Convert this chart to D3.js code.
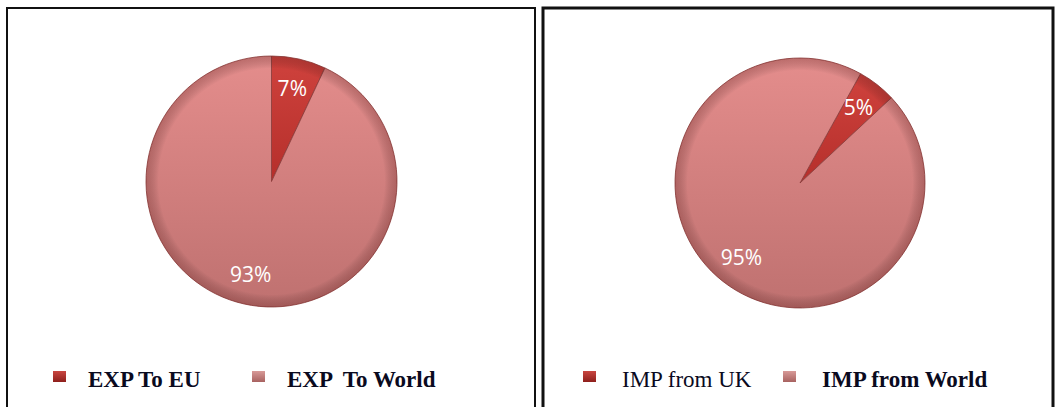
<!DOCTYPE html>
<html>
<head>
<meta charset="utf-8">
<script src="https://cdn.jsdelivr.net/npm/d3@7"></script>
<style>
  body { margin: 0; background: #fff; }
  svg { display: block; }
</style>
</head>
<body>
<div id="chart"></div>
<script>
// data
var exportCategories = ["EXP To EU", "EXP  To World"];
var exportValues = [7, 93];
var importCategories = ["IMP from UK", "IMP from World"];
var importValues = [5, 95];

var W = 1058, H = 407;
var svg = d3.select("#chart").append("svg").attr("width", W).attr("height", H);
var defs = svg.append("defs");

// slice fills: dark red for the small share, pink for the rest
var SLICE_COLORS = [["#cf423d", "#b52f2b"], ["#e48d8c", "#bf7170"]];
var MARK_COLORS = [["#c94640", "#8e1f1c"], ["#d89a98", "#a86260"]];

SLICE_COLORS.forEach(function(c, i) {
  var g = defs.append("linearGradient").attr("id", "slice" + i)
    .attr("x1", 0).attr("y1", 0).attr("x2", 0).attr("y2", 1);
  g.append("stop").attr("offset", "0%").attr("stop-color", c[0]);
  g.append("stop").attr("offset", "100%").attr("stop-color", c[1]);
});
MARK_COLORS.forEach(function(c, i) {
  var g = defs.append("linearGradient").attr("id", "mark" + i)
    .attr("x1", 0).attr("y1", 0).attr("x2", 0).attr("y2", 1);
  g.append("stop").attr("offset", "0%").attr("stop-color", c[0]);
  g.append("stop").attr("offset", "100%").attr("stop-color", c[1]);
});
// darker rim for the bevelled look
var rim = defs.append("radialGradient").attr("id", "rim");
rim.append("stop").attr("offset", "90%").attr("stop-color", "#000").attr("stop-opacity", 0);
rim.append("stop").attr("offset", "100%").attr("stop-color", "#5a1a18").attr("stop-opacity", 0.28);

function drawPanel(opts) {
  var panel = svg.append("g");

  panel.append("rect")
    .attr("x", opts.box[0]).attr("y", opts.box[1])
    .attr("width", opts.box[2]).attr("height", opts.box[3])
    .attr("fill", "none").attr("stroke", "#111")
    .attr("stroke-width", opts.border);

  var pie = d3.pie().sort(null)
    .startAngle(opts.start).endAngle(opts.start + 2 * Math.PI);
  var arcs = pie(opts.values);

  var arc = d3.arc().innerRadius(0).outerRadius(opts.r);
  var labelArc = d3.arc().innerRadius(opts.r * 0.76).outerRadius(opts.r * 0.76);

  var g = panel.append("g")
    .attr("transform", "translate(" + opts.cx + "," + opts.cy + ")");

  g.selectAll("path.slice")
    .data(arcs)
    .enter().append("path")
      .attr("class", "slice")
      .attr("d", arc)
      .attr("fill", function(d, i) { return "url(#slice" + i + ")"; })
      .attr("stroke", "#8a3a38")
      .attr("stroke-width", 0.8);

  g.append("circle").attr("r", opts.r).attr("fill", "url(#rim)");

  g.selectAll("text.pct")
    .data(arcs)
    .enter().append("text")
      .attr("class", "pct")
      .attr("transform", function(d) { return "translate(" + labelArc.centroid(d) + ")"; })
      .attr("text-anchor", "middle")
      .attr("dy", "0.35em")
      .attr("fill", "#fff")
      .style("font-family", "'Open Sans', sans-serif")
      .style("font-size", "21px")
      .text(function(d) { return d.data + "%"; });

  // legend
  var leg = panel.selectAll("g.leg")
    .data(opts.categories)
    .enter().append("g")
      .attr("class", "leg")
      .attr("transform", function(d, i) { return "translate(" + opts.legX[i] + ",371)"; });

  leg.append("rect")
    .attr("width", 13).attr("height", 11)
    .attr("fill", function(d, i) { return "url(#mark" + i + ")"; });

  leg.append("text")
    .attr("x", function(d, i) { return opts.textDx[i]; })
    .attr("y", 16)
    .attr("fill", "#0a0a1e")
    .style("font-family", "'Liberation Serif', 'Times New Roman', serif")
    .style("font-size", "23px")
    .style("font-weight", function(d, i) { return opts.bold[i] ? "bold" : "normal"; })
    .style("white-space", "pre")
    .text(function(d) { return d; });
}

drawPanel({
  box: [7, 8, 528, 420], border: 2,
  cx: 271.5, cy: 181.5, r: 125.5, start: 0,
  values: exportValues, categories: exportCategories,
  legX: [53, 252], textDx: [35, 35], bold: [true, true]
});

drawPanel({
  box: [543, 8, 510, 420], border: 3,
  cx: 800, cy: 183, r: 125, start: 29 * Math.PI / 180,
  values: importValues, categories: importCategories,
  legX: [583, 783], textDx: [39, 39], bold: [false, true]
});
</script>
</body>
</html>
